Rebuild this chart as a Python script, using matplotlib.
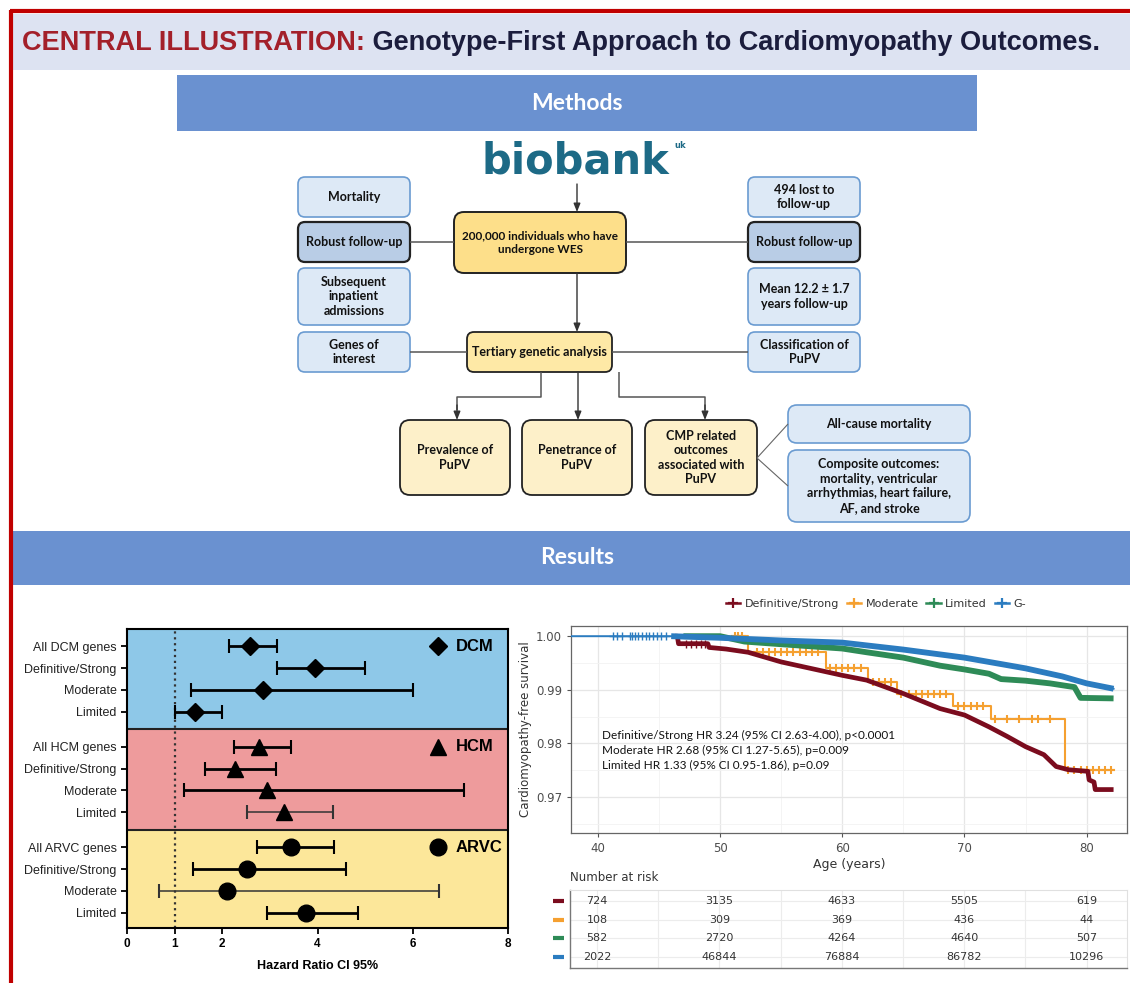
import numpy as np
import matplotlib
matplotlib.use("Agg")
import matplotlib.pyplot as plt
from matplotlib.patches import FancyBboxPatch, Rectangle
from matplotlib.lines import Line2D

# ---- forest plot data (hazard ratio, lower CI, upper CI)
row_labels = ["Definitive/Strong", "Moderate", "Limited"]
groups = ["DCM", "HCM", "ARVC"]
hr = [[2.58, 3.95, 2.85, 1.42],
      [2.78, 2.27, 2.93, 3.29],
      [3.44, 2.53, 2.11, 3.76]]
ci_lo = [[2.14, 3.15, 1.35, 1.00],
         [2.25, 1.63, 1.20, 2.52],
         [2.72, 1.39, 0.67, 2.93]]
ci_hi = [[3.15, 4.99, 6.00, 1.99],
         [3.44, 3.13, 7.07, 4.32],
         [4.34, 4.59, 6.56, 4.84]]

# ---- Kaplan-Meier data (age, survival)
age_ds = [46.3, 46.5, 46.6, 49.0, 49.1, 50.5, 52.3, 53.5, 55, 57, 60, 62, 65, 68, 70,
          72, 73.5, 75, 76.5, 77.5, 78.5, 80.1, 80.2, 80.6, 80.7, 82.2]
surv_ds = [1.0, 1.0, 0.9986, 0.9986, 0.9979, 0.9976, 0.9970, 0.9962, 0.9952, 0.9942,
           0.9927, 0.9918, 0.9893, 0.9865, 0.9853, 0.9831, 0.9813, 0.9794, 0.9779,
           0.9757, 0.9751, 0.9748, 0.9732, 0.9728, 0.9714, 0.9714]
age_mod = [51.0, 52.3, 58.7, 62.1, 64.5, 69.1, 72.2, 78.2, 82.2]
surv_mod = [1.0, 0.9970, 0.9941, 0.9915, 0.9892, 0.9870, 0.9845, 0.9751, 0.9751]
cens_mod = [51.2, 51.5, 51.8, 53, 53.5, 54, 54.5, 55, 55.5, 56, 56.5, 57, 57.5, 58,
            59, 59.5, 60, 60.5, 61, 61.5, 62.5, 63, 63.5, 64, 64.8, 65.5, 66, 66.5,
            67, 67.5, 68, 68.5, 69.5, 70, 70.5, 71, 71.5, 72.5, 73.5, 74.5, 75.5, 76,
            77, 78.5, 79, 79.5, 80, 80.5, 81, 81.5, 82]
age_lim = [47, 50, 52, 55, 60, 62, 65, 68, 70, 72, 73, 75, 77, 79, 79.5, 82.2]
surv_lim = [1.0, 1.0, 0.9990, 0.9985, 0.9977, 0.9970, 0.9960, 0.9945, 0.9938, 0.9930,
            0.9920, 0.9917, 0.9912, 0.9905, 0.9885, 0.9884]
age_neg = [37.8, 46, 50, 55, 60, 65, 70, 75, 78, 80, 82.2]
surv_neg = [1.0, 1.0, 0.9997, 0.9992, 0.9988, 0.9975, 0.9960, 0.9940, 0.9925, 0.9912, 0.9902]
cens_neg = [41.2, 41.6, 42.0, 42.6, 42.8, 43.0, 43.3, 43.6, 43.9, 44.2, 44.5, 44.8, 45.2, 45.6]
cens_ds = [47.2, 47.6, 48.0, 48.4, 48.8]

risk_times = [40, 50, 60, 70, 80]
risk_ds = [724, 3135, 4633, 5505, 619]
risk_mod = [108, 309, 369, 436, 44]
risk_lim = [582, 2720, 4264, 4640, 507]
risk_neg = [2022, 46844, 76884, 86782, 10296]

km_names = ["Definitive/Strong", "Moderate", "Limited", "G-"]
km_colors = ["#7b0c1e", "#f5a030", "#2e8b57", "#2b7cc0"]

W, H = 1130, 983
fig = plt.figure(figsize=(W / 100, H / 100), dpi=100)
ax0 = fig.add_axes([0, 0, 1, 1])
ax0.set_xlim(0, W)
ax0.set_ylim(H, 0)
ax0.axis("off")

BOX_FONT = ["Lato", "DejaVu Sans"]
ARIAL = ["Liberation Sans", "DejaVu Sans"]


def box(x0, y0, x1, y1, txt, fc, ec, lw=1.2, fs=8.5, rs=7):
    p = FancyBboxPatch((x0, y0), x1 - x0, y1 - y0,
                       boxstyle="round,pad=0,rounding_size=%d" % rs,
                       fc=fc, ec=ec, lw=lw)
    ax0.add_patch(p)
    ax0.text((x0 + x1) / 2, (y0 + y1) / 2, txt, ha="center", va="center",
             fontsize=fs, fontweight="bold", family=BOX_FONT, color="#111111",
             linespacing=1.25)


def line(xs, ys, c="#555555", lw=1.1):
    ax0.plot(xs, ys, color=c, lw=lw, solid_capstyle="butt")


def arrow(x, y0, y1):
    ax0.annotate("", xy=(x, y1), xytext=(x, y0),
                 arrowprops=dict(arrowstyle="-|>,head_length=0.5,head_width=0.2",
                                 color="#333333", lw=1.0, shrinkA=0, shrinkB=0))


# red frame
line([10, W], [11, 11], c="#c00000", lw=3)
line([11, 11], [10, H], c="#c00000", lw=3)

# title band
ax0.add_patch(Rectangle((13, 14), W - 13, 56, fc="#dde3f2", ec="none"))
title_fs = 17.5
t1 = ax0.text(22, 43, "CENTRAL ILLUSTRATION:", fontsize=title_fs, fontweight="bold",
              family=ARIAL, color="#a3202a", va="center", ha="left")
t2 = ax0.annotate(" Genotype-First Approach to Cardiomyopathy Outcomes.", xy=(1, 0.5),
                  xycoords=t1, va="center", ha="left", fontsize=title_fs,
                  fontweight="bold", family=ARIAL, color="#1b1d3d")
# fit title to the band width
renderer = fig.canvas.get_renderer()
right = t2.get_window_extent(renderer).x1
scale = (1100 - 22) / (right - 22)
t1.set_fontsize(title_fs * scale)
t2.set_fontsize(title_fs * scale)

# Methods band
ax0.add_patch(Rectangle((177, 75), 800, 56, fc="#6a91d0", ec="none"))
ax0.text(577, 104, "Methods", color="white", fontsize=16.5, fontweight="bold",
         family=BOX_FONT, ha="center", va="center")

# biobank logo
ax0.text(575, 162, "biobank", color="#1d6a86", fontsize=30, fontweight="heavy",
         family=["DejaVu Sans"], ha="center", va="center")
ax0.text(680, 146, "uk", color="#1d6a86", fontsize=6, fontweight="bold",
         ha="center", va="center")

LB_FC, LB_EC = "#dde9f6", "#6a9bd1"
DB_FC = "#b9cde6"
YL_FC = "#fddf8a"
YL2_FC = "#fee9a6"
YL3_FC = "#fdf0c9"

# connectors
arrow(577, 184, 212)
line([410, 454], [242, 242])
line([626, 748], [242, 242])
arrow(577, 273, 332)
line([410, 467], [352, 352])
line([612, 748], [352, 352])
line([541, 541, 457, 457], [372, 397, 397, 410])
arrow(457, 405, 420)
arrow(578, 372, 420)
line([619, 619, 705, 705], [372, 397, 397, 410])
arrow(705, 405, 420)
line([757, 788], [458, 424], c="#666666", lw=0.8)
line([757, 788], [458, 486], c="#666666", lw=0.8)

# left column
box(298, 177, 410, 217, "Mortality", LB_FC, LB_EC, fs=9)
box(298, 222, 410, 262, "Robust follow-up", DB_FC, "#222222", lw=1.6, fs=9)
box(298, 268, 410, 325, "Subsequent\ninpatient\nadmissions", LB_FC, LB_EC, fs=9)
box(298, 332, 410, 372, "Genes of\ninterest", LB_FC, LB_EC, fs=9)
# right column
box(748, 177, 860, 217, "494 lost to\nfollow-up", LB_FC, LB_EC, fs=9)
box(748, 222, 860, 262, "Robust follow-up", DB_FC, "#222222", lw=1.6, fs=9)
box(748, 268, 860, 325, "Mean 12.2 \u00b1 1.7\nyears follow-up", LB_FC, LB_EC, fs=9)
box(748, 332, 860, 372, "Classification of\nPuPV", LB_FC, LB_EC, fs=9)
# center
box(454, 212, 626, 273, "200,000 individuals who have\nundergone WES", YL_FC, "#222222", lw=1.4, rs=10)
box(467, 332, 612, 372, "Tertiary genetic analysis", YL2_FC, "#222222", lw=1.3, fs=9)
box(400, 420, 510, 495, "Prevalence of\nPuPV", YL3_FC, "#222222", lw=1.3, rs=10, fs=9)
box(522, 420, 632, 495, "Penetrance of\nPuPV", YL3_FC, "#222222", lw=1.3, rs=10, fs=9)
box(645, 420, 757, 495, "CMP related\noutcomes\nassociated with\nPuPV", YL3_FC, "#222222", lw=1.3, rs=10, fs=9)
box(788, 405, 970, 443, "All-cause mortality", LB_FC, LB_EC, rs=9, fs=9)
box(788, 450, 970, 522, "Composite outcomes:\nmortality, ventricular\narrhythmias, heart failure,\nAF, and stroke",
    LB_FC, LB_EC, rs=9, fs=9)

# Results band
ax0.add_patch(Rectangle((13, 531), W - 13, 54, fc="#6a91d0", ec="none"))
ax0.text(577, 558, "Results", color="white", fontsize=16.5, fontweight="bold",
         family=BOX_FONT, ha="center", va="center")


def fig_rect(x0, y0, x1, y1):
    return [x0 / W, 1 - y1 / H, (x1 - x0) / W, (y1 - y0) / H]


# ---------------- forest plot
axf = fig.add_axes(fig_rect(127, 629, 508, 928))
bg = ["#8ec8e8", "#ee9b9c", "#fce79a"]
markers = ["D", "^", "o"]
msizes = [9, 11, 12]
gap = 4.62
yticks, ylabels = [], []
for g in range(3):
    off = g * gap
    bottom = off + 3.82 if g < 2 else 12.95
    axf.axhspan(off - 0.8, bottom, color=bg[g], zorder=0)
    if g > 0:
        axf.axhline(off - 0.8, color="#222222", lw=1.5, zorder=1)
    labels = ["All %s genes" % groups[g]] + row_labels
    for i in range(4):
        y = off + i
        thin = (g == 1 and i == 3) or (g == 2 and i == 2)
        axf.errorbar(hr[g][i], y,
                     xerr=[[hr[g][i] - ci_lo[g][i]], [ci_hi[g][i] - hr[g][i]]],
                     fmt="none", ecolor="#333333" if thin else "black",
                     elinewidth=1.1 if thin else 2.0, capsize=5,
                     capthick=1.5, zorder=3)
        axf.plot(hr[g][i], y, marker=markers[g], ms=msizes[g], color="black",
                 ls="none", zorder=4)
        yticks.append(y)
        ylabels.append(labels[i])
    axf.plot(6.53, off, marker=markers[g], ms=msizes[g], color="black", zorder=4)
    axf.text(6.9, off, groups[g], fontsize=12, fontweight="bold", va="center",
             ha="left", family=ARIAL)
axf.axvline(1, color="#333333", ls=":", lw=1.6, zorder=2)
axf.set_xlim(0, 8)
axf.set_ylim(12.95, -0.8)
axf.set_xticks([0, 1, 2, 4, 6, 8])
axf.set_xticklabels(["0", "1", "2", "4", "6", "8"], fontweight="bold",
                    family=ARIAL, fontsize=8.5)
axf.set_yticks(yticks)
axf.set_yticklabels(ylabels, fontsize=9, family=ARIAL, color="#222222")
axf.tick_params(axis="both", width=1.3, length=4)
axf.set_xlabel("Hazard Ratio CI 95%", fontsize=9, fontweight="bold",
               family=ARIAL, labelpad=7)
for s in axf.spines.values():
    s.set_linewidth(1.5)

# ---------------- Kaplan-Meier
axk = fig.add_axes(fig_rect(571, 626, 1127, 833))
axk.set_facecolor("white")
axk.set_xlim(37.8, 83.3)
axk.set_ylim(0.9633, 1.0019)
axk.set_xticks([40, 50, 60, 70, 80])
axk.set_xticks([45, 55, 65, 75], minor=True)
axk.set_yticks([0.97, 0.98, 0.99, 1.00])
axk.set_yticks([0.965, 0.975, 0.985, 0.995], minor=True)
axk.set_yticklabels(["0.97", "0.98", "0.99", "1.00"])
axk.grid(which="major", color="#e6e6e6", lw=0.9)
axk.grid(which="minor", color="#f2f2f2", lw=0.6)
axk.set_axisbelow(True)
axk.tick_params(which="both", labelsize=8.5, labelcolor="#4d4d4d", color="#555555", length=3)
axk.tick_params(which="minor", length=0)
for s in axk.spines.values():
    s.set_color("#666666")
    s.set_linewidth(0.9)
axk.set_xlabel("Age (years)", fontsize=9, color="#333333", labelpad=2)
axk.set_ylabel("Cardiomyopathy-free survival", fontsize=8.5, color="#333333", labelpad=3)

age_neg_a, surv_neg_a = np.array(age_neg), np.array(surv_neg)
axk.plot(age_neg_a, surv_neg_a, color=km_colors[3], lw=1.4, zorder=6)
axk.plot(cens_neg, np.ones(len(cens_neg)), "+", color=km_colors[3], ms=6, zorder=6)
thick = age_neg_a >= 46
axk.plot(age_neg_a[thick], surv_neg_a[thick], color=km_colors[3], lw=4.2, zorder=5,
         solid_capstyle="butt")
axk.plot(age_lim, surv_lim, color=km_colors[2], lw=4.2, zorder=4, solid_capstyle="butt")
axk.step(age_mod, surv_mod, where="post", color=km_colors[1], lw=1.5, zorder=3)
mod_idx = np.searchsorted(age_mod, cens_mod, side="right") - 1
axk.plot(cens_mod, np.array(surv_mod)[mod_idx], "+", color=km_colors[1], ms=6,
         mew=1.5, zorder=3)
axk.plot(age_ds, surv_ds, color=km_colors[0], lw=3.4, zorder=4, solid_capstyle="butt")
axk.plot(cens_ds, [0.9986] * len(cens_ds), "+", color=km_colors[0], ms=6, zorder=4)

txt = ("Definitive/Strong HR 3.24 (95% CI 2.63-4.00), p<0.0001\n"
       "Moderate HR 2.68 (95% CI 1.27-5.65), p=0.009\n"
       "Limited HR 1.33 (95% CI 0.95-1.86), p=0.09")
axk.text(40.3, 0.9826, txt, fontsize=8.5, family=BOX_FONT, va="top", ha="left",
         color="#111111", linespacing=1.45, zorder=6)

handles = [Line2D([], [], color=c, marker="+", ms=7, mew=1.6, lw=1.8) for c in km_colors]
fig.legend(handles, km_names, loc="center", bbox_to_anchor=(876 / W, 1 - 604 / H),
           ncol=4, frameon=False, fontsize=8, handlelength=1.3, handletextpad=0.4,
           columnspacing=0.7, labelcolor="#333333")

# ---------------- number at risk table
axt = fig.add_axes(fig_rect(570, 890, 1127, 968))
axt.set_xlim(37.8, 83.3)
axt.set_ylim(3.6, -0.6)
axt.set_xticks([40, 50, 60, 70, 80])
axt.set_xticks([45, 55, 65, 75], minor=True)
axt.set_yticks([0, 1, 2, 3])
axt.grid(which="both", axis="x", color="#ececec", lw=0.8)
axt.grid(axis="y", color="#ececec", lw=0.8)
axt.tick_params(which="both", length=0, labelbottom=False, labelleft=False)
for side in ["top", "right"]:
    axt.spines[side].set_color("#e0e0e0")
for side in ["left", "bottom"]:
    axt.spines[side].set_color("#777777")
    axt.spines[side].set_linewidth(1.0)
for r, vals in enumerate([risk_ds, risk_mod, risk_lim, risk_neg]):
    for t, v in zip(risk_times, vals):
        axt.text(t, r, str(v), ha="center", va="center", fontsize=8, color="#333333")
    axt.plot([36.4, 37.3], [r, r], color=km_colors[r], lw=3, clip_on=False,
             solid_capstyle="butt")
axt.text(37.8, -0.9, "Number at risk", fontsize=8.5, color="#333333", ha="left",
         va="bottom")

fig.savefig("out.png", dpi=100)
